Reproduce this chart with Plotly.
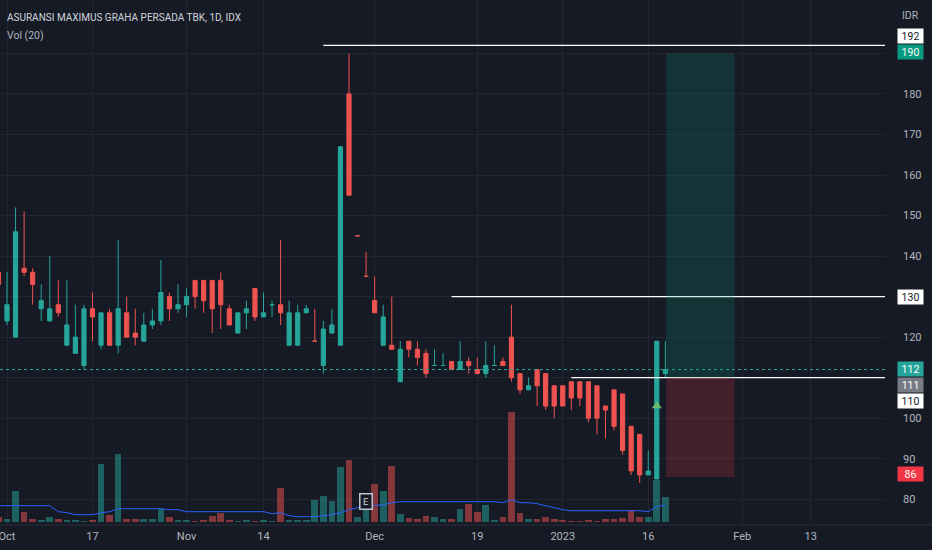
import plotly.graph_objects as go
import pandas as pd

# ---------------- data ----------------
title_text = "ASURANSI MAXIMUS GRAHA PERSADA TBK, 1D, IDX"
vol_title = "Vol (20)"

# trading days (IDX), first bar = 2022-09-30
trade_days = pd.bdate_range("2022-09-30", "2023-03-10", freq="C", holidays=["2023-01-23"])

opens = [136, 124, 120, 137, 136, 127, 124, 128, 118, 116, 113, 127, 118, 126, 118, 126, 121, 119, 123, 124,
         130, 127, 128, 134, 134, 134, 134, 127, 121, 126, 132, 125, 128, 128, 118, 118, 126, 119, 113, 121,
         118, 180, 145, 135, 129, 118, 118, 109, 119, 117, 116, 113, 113, 114, 112, 114, 112, 111, 113, 114,
         120, 111, 107, 112, 111, 108, 108, 109, 109, 109, 108, 103, 107, 106, 98, 96, 86, 85, 111]
highs = [137, 136, 152, 151, 137, 133, 140, 134, 134, 128, 128, 131, 126, 127, 144, 130, 127, 126, 127, 139,
         131, 133, 132, 134, 134, 134, 136, 128, 126, 129, 132, 131, 129, 144, 129, 128, 128, 127, 124, 127,
         167, 190, 145, 141, 135, 128, 130, 119, 119, 119, 117, 117, 116, 114, 119, 115, 115, 119, 118, 115,
         128, 111, 110, 112, 111, 108, 108, 109, 109, 109, 108, 103, 107, 106, 98, 96, 92, 119, 119]
lows = [131, 123, 120, 135, 128, 124, 124, 125, 118, 116, 112, 119, 117, 118, 116, 120, 118, 119, 122, 123,
        124, 126, 125, 127, 126, 121, 122, 123, 121, 122, 124, 125, 125, 123, 118, 118, 126, 119, 111, 121,
        118, 155, 145, 135, 126, 118, 117, 109, 115, 113, 110, 113, 113, 112, 112, 111, 111, 110, 113, 113,
        109, 106, 107, 103, 102, 100, 103, 102, 103, 99, 96, 95, 97, 91, 86, 84, 86, 85, 110]
closes = [133, 128, 146, 136, 133, 129, 127, 126, 123, 120, 127, 125, 126, 118, 127, 120, 120, 123, 124, 131,
          127, 128, 130, 130, 129, 127, 128, 123, 126, 127, 125, 126, 128, 126, 126, 126, 127, 119, 122, 123,
          167, 155, 145, 135, 126, 125, 117, 117, 117, 115, 111, 113, 113, 112, 114, 113, 111, 113, 113, 113,
          110, 107, 108, 108, 103, 103, 103, 105, 105, 100, 100, 102, 98, 92, 87, 86, 87, 119, 112]
# volume in thousands of shares
volumes = [100, 60, 620, 200, 60, 40, 100, 60, 40, 40, 20, 40, 1160, 140, 1360, 60, 60, 60, 60, 260,
           100, 40, 40, 20, 40, 120, 180, 40, 20, 40, 20, 40, 20, 680, 40, 40, 40, 440, 520, 420,
           1100, 1240, 100, 560, 760, 620, 1120, 160, 80, 60, 120, 100, 60, 60, 260, 360, 200, 340, 40, 100,
           2200, 180, 60, 60, 100, 60, 40, 20, 20, 40, 20, 60, 60, 80, 240, 100, 100, 840, 500]
vol_ma20 = [320, 320, 320, 320, 320, 320, 320, 200, 180, 140, 140, 140, 180, 200, 260, 260, 260, 260, 260, 260,
            240, 240, 200, 200, 200, 200, 200, 200, 200, 200, 200, 200, 160, 180, 120, 100, 100, 100, 120, 140,
            180, 240, 280, 300, 320, 340, 380, 400, 400, 400, 400, 400, 400, 400, 400, 400, 400, 400, 400, 380,
            440, 380, 380, 360, 320, 280, 240, 220, 220, 220, 220, 220, 220, 220, 220, 220, 200, 300, 340]

tick_dates = ["2022-10-03", "2022-10-17", "2022-11-01", "2022-11-14", "2022-12-01",
              "2022-12-19", "2023-01-02", "2023-01-16", "2023-02-01", "2023-02-13"]
tick_text = ["Oct", "17", "Nov", "14", "Dec", "19", "2023", "16", "Feb", "13"]
price_ticks = [80, 90, 100, 110, 120, 130, 140, 150, 160, 170, 180, 190]
# tick labels hidden behind drawing / price labels
covered_ticks = [110, 130, 190]

# drawings
hline_levels = [192, 130, 110]
hline_start_dates = ["2022-11-23", "2022-12-14", "2023-01-03"]
long_start, long_end = "2023-01-18", "2023-01-31"
long_target, long_entry, long_stop = 190, 110, 85.5
last_price = 112
arrow_date, arrow_price = "2023-01-17", 103
earnings_date = "2022-11-30"

# axis labels (text, price, bg, fg, pixel shift)
axis_labels = [("192", 192, "#ffffff", "#131722", 9),
               ("190", 190, "#089981", "#ffffff", 1),
               ("130", 130, "#ffffff", "#131722", 0),
               ("112", 112, "#26a69a", "#ffffff", 1),
               ("111", 111, "#787b86", "#ffffff", -11),
               ("110", 110, "#ffffff", "#131722", -23),
               ("86", 85.5, "#f23645", "#ffffff", 3)]

# ---------------- helpers ----------------
day_list = list(trade_days)


def pos(d):
    return day_list.index(pd.Timestamp(d)) - 1


bar_x = [i - 1 for i in range(len(opens))]
tick_x = [pos(d) for d in tick_dates]
price_ticktext = ["" if t in covered_ticks else str(t) for t in price_ticks]

UP, DN = "#26a69a", "#ef5350"
vol_colors = ["rgba(38,166,154,0.5)" if c >= o else "rgba(239,83,80,0.5)" for o, c in zip(opens, closes)]

BG = "#161a25"
GRID = "#222633"
TXT = "#b2b5be"
FONT = "Roboto, Arial, sans-serif"

fig = go.Figure()

# volume (base axis y), candles on overlaying y2 so they sit on top
fig.add_trace(go.Bar(x=bar_x, y=volumes, marker=dict(color=vol_colors, line=dict(width=0)),
                     width=0.78, yaxis="y", hoverinfo="skip", showlegend=False))
fig.add_trace(go.Scatter(x=bar_x, y=vol_ma20, mode="lines", line=dict(color="#2962ff", width=1),
                         yaxis="y", hoverinfo="skip", showlegend=False))
fig.add_trace(go.Candlestick(x=bar_x, open=opens, high=highs, low=lows, close=closes, yaxis="y2",
                             increasing=dict(line=dict(color=UP, width=1), fillcolor=UP),
                             decreasing=dict(line=dict(color=DN, width=1), fillcolor=DN),
                             whiskerwidth=0, showlegend=False, hoverinfo="skip"))
fig.add_trace(go.Scatter(x=[pos(arrow_date)], y=[arrow_price], mode="markers", yaxis="y2",
                         marker=dict(symbol="triangle-up", size=9, color="#66bb6a"),
                         hoverinfo="skip", showlegend=False))

x_min = -7 / 8.55
x_max = (885 - 7) / 8.55
y_top = 823.5 / 4.053
y_bot = (823.5 - 525) / 4.053

shapes = []
# horizontal lines
for lvl, d in zip(hline_levels, hline_start_dates):
    shapes.append(dict(type="line", xref="x", yref="y2", x0=pos(d), x1=x_max + 5, y0=lvl, y1=lvl,
                       line=dict(color="#ffffff", width=1.3), layer="above"))
# last price dotted line
shapes.append(dict(type="line", xref="paper", yref="y2", x0=0, x1=1, y0=last_price, y1=last_price,
                   line=dict(color=UP, width=1, dash="dot"), layer="above"))
# long position
shapes.append(dict(type="rect", xref="x", yref="y2", x0=pos(long_start) + 0.1, x1=pos(long_end) + 0.1,
                   y0=long_entry, y1=long_target, fillcolor="rgba(8,153,129,0.2)", line=dict(width=0),
                   layer="above"))
shapes.append(dict(type="rect", xref="x", yref="y2", x0=pos(long_start) + 0.1, x1=pos(long_end) + 0.1,
                   y0=long_stop, y1=long_entry, fillcolor="rgba(242,54,69,0.2)", line=dict(width=0),
                   layer="above"))
# bottom separator
shapes.append(dict(type="line", xref="paper", yref="paper", x0=0, x1=932 / 885, y0=0, y1=0,
                   line=dict(color="#2a2e39", width=1)))

annotations = [
    dict(text=title_text, xref="paper", yref="paper", x=0, y=1, xanchor="left", yanchor="top",
         xshift=5, yshift=-10, showarrow=False, font=dict(family=FONT, size=10, color="#d1d4dc")),
    dict(text=vol_title, xref="paper", yref="paper", x=0, y=1, xanchor="left", yanchor="top",
         xshift=5, yshift=-27, showarrow=False, font=dict(family=FONT, size=10.5, color="#b2b5be")),
    dict(text="IDR", xref="paper", yref="paper", x=911 / 885, y=1, xanchor="center", yanchor="top",
         yshift=-7, showarrow=False, font=dict(family=FONT, size=10.5, color=TXT)),
    dict(text="E", xref="x", yref="paper", x=pos(earnings_date), y=(525 - 510) / 525, showarrow=False,
         font=dict(family=FONT, size=9.5, color="#d1d4dc"), bgcolor=BG, bordercolor="#c0c3cc",
         borderwidth=1.5, borderpad=1, width=9, height=12),
]
for txt, p, bg, fg, sh in axis_labels:
    annotations.append(dict(text=txt, xref="paper", yref="y2", x=1, y=p, xanchor="left", yanchor="middle",
                            xshift=12, yshift=sh, showarrow=False, bgcolor=bg, width=23, height=12,
                            borderpad=1, font=dict(family=FONT, size=10.5, color=fg)))

fig.update_layout(
    width=932, height=550,
    margin=dict(l=0, r=47, t=0, b=25),
    paper_bgcolor=BG, plot_bgcolor=BG,
    bargap=0,
    xaxis=dict(range=[x_min, x_max], tickvals=tick_x, ticktext=tick_text, showgrid=True,
               gridcolor=GRID, gridwidth=1, zeroline=False, showline=False, ticks="",
               ticklabelstandoff=3, ticklabeloverflow="allow",
               tickfont=dict(family=FONT, size=11, color=TXT), rangeslider=dict(visible=False),
               fixedrange=True),
    yaxis=dict(range=[-66, 10434], visible=False, showgrid=False, zeroline=False, fixedrange=True),
    yaxis2=dict(range=[y_bot, y_top], overlaying="y", side="right", tickvals=price_ticks,
                ticktext=price_ticktext,
                showgrid=True, gridcolor=GRID, gridwidth=1, zeroline=False, showline=False, ticks="",
                ticklabelstandoff=17, tickfont=dict(family=FONT, size=11, color=TXT), fixedrange=True),
    shapes=shapes,
    annotations=annotations,
)

fig.write_html("out.html", config={"displayModeBar": False})

# remove the browser's default page margin so the chart fills the window
with open("out.html", encoding="utf-8") as f:
    html = f.read()
html = html.replace("<head>", "<head><style>html,body{margin:0;padding:0;overflow:hidden;background:#161a25}</style>", 1)
with open("out.html", "w", encoding="utf-8") as f:
    f.write(html)
